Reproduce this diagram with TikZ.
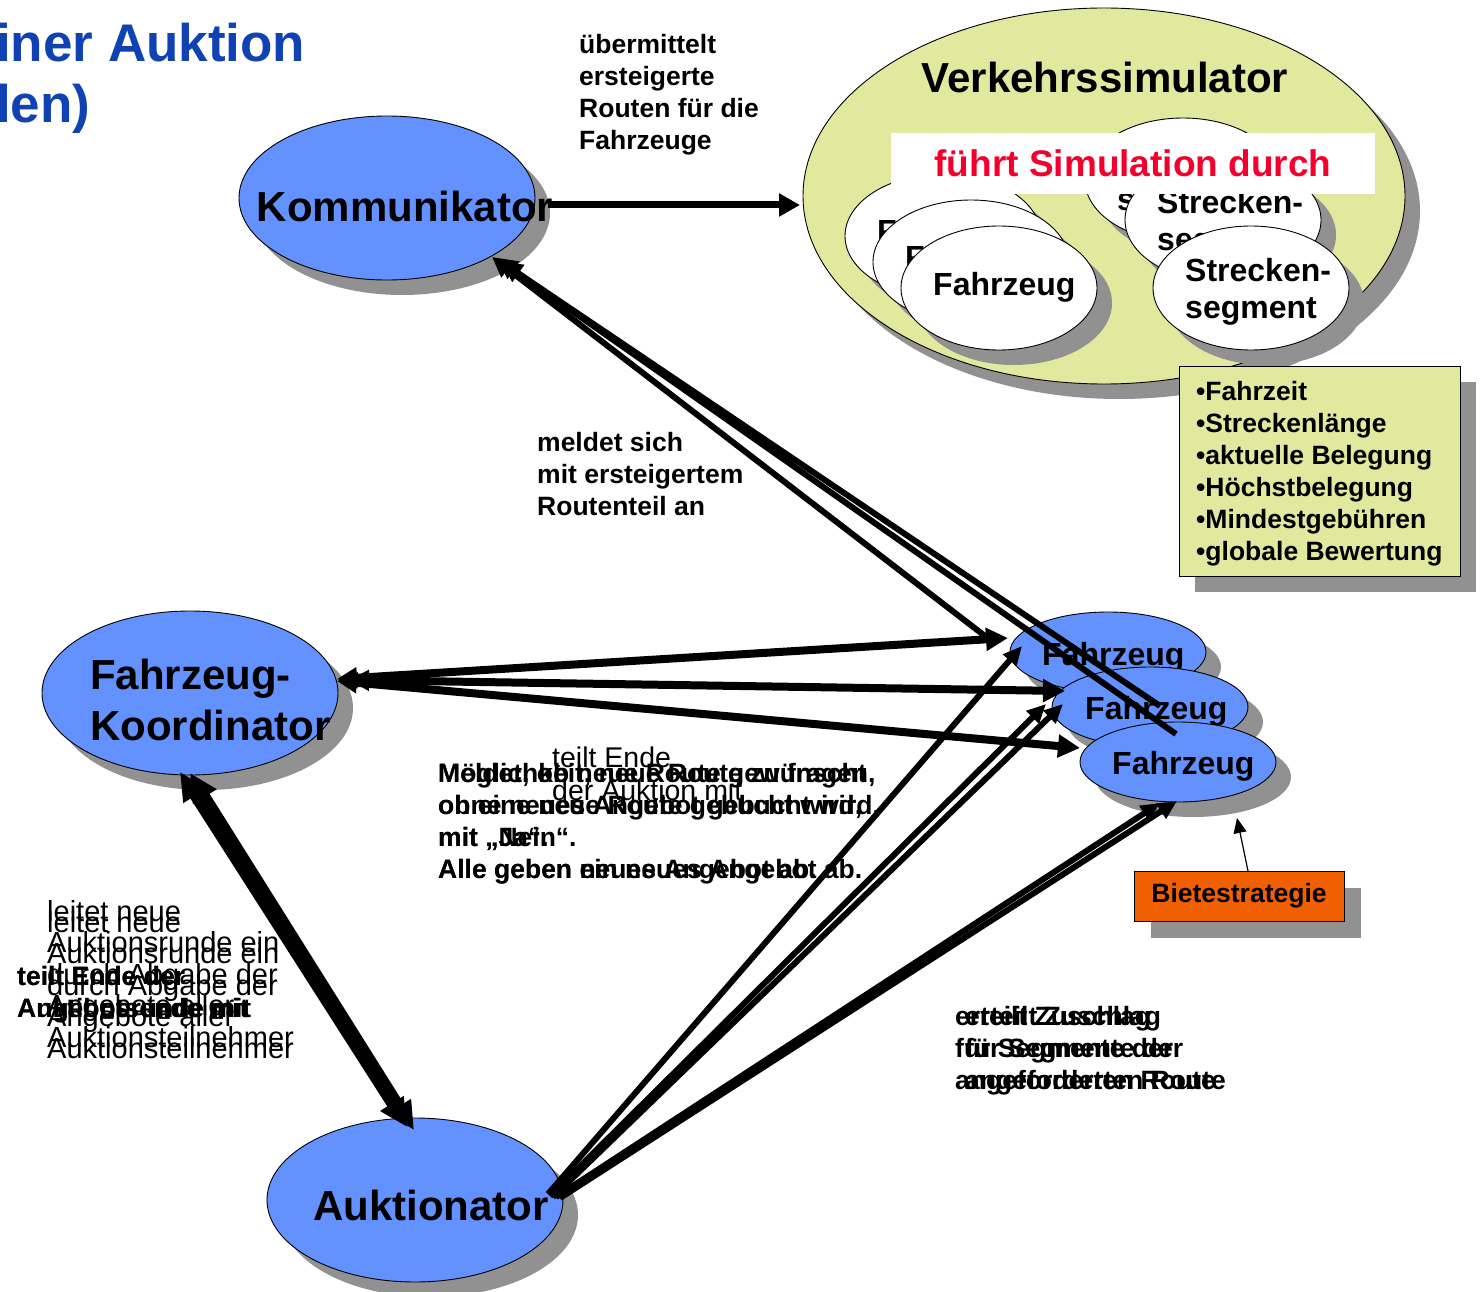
\documentclass[tikz,border=0pt]{standalone}
\usepackage{fontspec}
\setmainfont{Liberation Sans}
\usetikzlibrary{shapes.geometric,arrows.meta,shadows}
\definecolor{ellblue}{RGB}{99,146,255}
\definecolor{shgray}{RGB}{145,145,145}
\definecolor{simyel}{RGB}{224,233,158}
\definecolor{bieteor}{RGB}{240,95,0}
\definecolor{simred}{RGB}{245,0,45}
\definecolor{titleblue}{RGB}{16,66,180}
\begin{document}
\begin{tikzpicture}[x=1pt,y=-1pt,
  shad/.style={general shadow={fill=shgray, shadow xshift=#1, shadow yshift=-#1}},
  ell/.style={ellipse, draw=black, line width=0.9pt, inner sep=0pt, shad=15pt},
  bluee/.style={ell, fill=ellblue},
  whitee/.style={ell, fill=white},
  bigtxt/.style={font=\bfseries\fontsize{42}{51}\selectfont, inner sep=0pt},
  midtxt/.style={font=\bfseries\fontsize{32}{37}\selectfont, inner sep=0pt},
  lbl/.style={font=\bfseries\fontsize{26.5}{32}\selectfont, align=left, anchor=north west, inner sep=0pt},
  reglbl/.style={font=\fontsize{29}{31.5}\selectfont, align=left, anchor=north west, inner sep=0pt},
  arrK/.style={line width=7pt, -{Triangle[length=21pt,width=22pt]}},
  arrKin/.style={line width=6pt, -{Triangle[length=20pt,width=20pt]}},
  arrKo/.style={line width=8pt, {Triangle[length=20pt,width=20pt]}-{Triangle[length=22pt,width=22pt]}},
  arrAu/.style={line width=6pt, -{Triangle[length=19pt,width=17pt]}},
  arrKA/.style={line width=11pt, {Triangle[length=28pt,width=26pt]}-{Triangle[length=28pt,width=26pt]}},
  arrThin/.style={line width=1.2pt, -{Triangle[length=15pt,width=13pt]}}
]
\useasboundingbox (0,0) rectangle (1481,1292);
\fill[white] (0,0) rectangle (1481,1292);

% title
\node[anchor=north west, inner sep=0pt, align=left, text=titleblue,
      font=\bfseries\fontsize{53}{61}\selectfont] (title) at (-4,22.4) {iner Auktion\\len)};

% main ellipses
\node[bluee, minimum width=296pt, minimum height=164pt] (komm) at (387,198) {};
\node[bluee, minimum width=296pt, minimum height=164pt] (koord) at (190,693) {};
\node[bluee, minimum width=296pt, minimum height=164pt] (aukt) at (415,1200) {};

% simulator
\node[ell, fill=simyel, minimum width=602pt, minimum height=376pt] (sim) at (1104,196) {};
\node[bigtxt, anchor=base] (simtxt) at (1105,93) {Verkehrssimulator};

\node[whitee, minimum width=196pt, minimum height=124pt] (sfz1) at (943,236) {};
\node[midtxt, anchor=base west] (sfz1t) at (877,243) {Fahrzeug};
\node[whitee, minimum width=196pt, minimum height=124pt] (sfz2) at (971,262) {};
\node[midtxt, anchor=base west] (sfz2t) at (905,269) {Fahrzeug};
\node[whitee, minimum width=196pt, minimum height=124pt] (sfz3) at (999,288) {};
\node[midtxt, anchor=base west] (sfz3t) at (933,295) {Fahrzeug};

\node[whitee, minimum width=196pt, minimum height=124pt] (ss1) at (1183,180) {};
\node[midtxt, anchor=north west, align=left] (ss1t) at (1117,150) {Strecken-\\segment};
\node[whitee, minimum width=196pt, minimum height=124pt] (ss2) at (1223,220) {};
\node[midtxt, anchor=north west, align=left] (ss2t) at (1157,190) {Strecken-\\segment};
\node[whitee, minimum width=196pt, minimum height=124pt] (ss3) at (1251,288) {};
\node[midtxt, anchor=north west, align=left] (ss3t) at (1185,258) {Strecken-\\segment};

\node[fill=white, inner sep=0pt, minimum width=484pt, minimum height=61pt, anchor=north west] (simrect) at (891,133) {};
\node[anchor=base, inner sep=0pt, text=simred, font=\bfseries\fontsize{37}{40}\selectfont] (simrtxt) at (1133,177) {führt Simulation durch};

% info box
\node[draw=black, line width=0.9pt, fill=simyel, shad=16pt, inner sep=0pt,
      minimum width=281pt, minimum height=210pt, anchor=north west] (info) at (1179,366) {};
\node[lbl] (infotxt) at (1196,381) {•Fahrzeit\\•Streckenlänge\\•aktuelle Belegung\\•Höchstbelegung\\•Mindestgebühren\\•globale Bewertung};

% blue vehicle cluster
\node[bluee, minimum width=196pt, minimum height=80pt] (bf1) at (1108,652) {};
\node[midtxt, anchor=base west] (bf1t) at (1042,665) {Fahrzeug};
\node[bluee, minimum width=196pt, minimum height=80pt] (bf2) at (1150,707) {};
\node[midtxt, anchor=base west] (bf2t) at (1085,719) {Fahrzeug};
\node[bluee, minimum width=196pt, minimum height=80pt] (bf3) at (1178,762) {};
\node[midtxt, anchor=base west] (bf3t) at (1112,774) {Fahrzeug};

% Bietestrategie
\node[draw=black, line width=0.9pt, fill=bieteor, shad=17pt, inner sep=0pt,
      minimum width=210pt, minimum height=50pt, font=\bfseries\fontsize{26.5}{30}\selectfont] (biete) at (1239,896) {Bietestrategie};

% connector coordinates
\coordinate (kout) at (548,205);
\coordinate (simin) at (800,205);
\coordinate (kin1) at (492,257);
\coordinate (kin2) at (497,259);
\coordinate (kin3) at (502,262);
\coordinate (fk1) at (985,636);
\coordinate (fk2) at (1160,706);
\coordinate (fk3) at (1176,734);
\coordinate (ko1) at (337,679);
\coordinate (ko2) at (349,680);
\coordinate (ko3) at (337,681);
\coordinate (fz1) at (1008,638);
\coordinate (fz2) at (1065,691);
\coordinate (fz3) at (1080,748);
\coordinate (ka1) at (180,772);
\coordinate (ka2) at (407,1127);
\coordinate (kb1) at (190,773);
\coordinate (kb2) at (414,1130);
\coordinate (a1) at (548,1194);
\coordinate (a2) at (550,1196);
\coordinate (a3) at (553,1197);
\coordinate (a4) at (556,1197);
\coordinate (a5) at (560,1198);
\coordinate (af1) at (1022,646);
\coordinate (af2) at (1046,704);
\coordinate (af3) at (1063,704);
\coordinate (af4) at (1160,803);
\coordinate (af5) at (1177,801);
\coordinate (bs) at (1248,871);
\coordinate (bt) at (1237,818);

% connectors
\draw[arrK] (kout) -- (simin);
\draw[arrKin] (fk1) -- (kin1);
\draw[arrKin] (fk2) -- (kin2);
\draw[arrKin] (fk3) -- (kin3);
\draw[arrKo] (ko1) -- (fz1);
\draw[arrKo] (ko2) -- (fz2);
\draw[arrKo] (ko3) -- (fz3);
\draw[arrKA] (ka1) -- (ka2);
\draw[arrKA] (kb1) -- (kb2);
\draw[arrAu] (a1) -- (af1);
\draw[arrAu] (a2) -- (af2);
\draw[arrAu] (a3) -- (af3);
\draw[arrAu] (a4) -- (af4);
\draw[arrAu] (a5) -- (af5);
\draw[arrThin] (bs) -- (bt);

% ellipse texts
\node[bigtxt, anchor=base] (kommt) at (405,222) {Kommunikator};
\node[bigtxt, anchor=north west, align=left] (koordt) at (90,658.4) {Fahrzeug-\\Koordinator};
\node[bigtxt, anchor=base] (auktt) at (431,1220) {Auktionator};

% labels
\node[lbl] (lroute) at (579,34) {übermittelt\\ersteigerte\\Routen für die\\Fahrzeuge};
\node[lbl] (lmeld) at (537,432) {meldet sich\\mit ersteigertem\\Routenteil an};

\node[lbl] (lmidA) at (438,763) {Meldet, ob neue Route gewünscht\\ohne neues Angebot gebucht wird,\\mit „Ja“.\\Alle geben neues Angebot ab.};
\node[lbl] (lmidB) at (438,763) {Möglichkeit, neue Route zu fragen,\\ob eine neue Route gebucht wird,\\mit „Nein“.\\Alle geben ein neues Angebot ab.};
\node[font=\fontsize{28.5}{33}\selectfont, align=left, anchor=north west, inner sep=0pt] (lende) at (552,747) {teilt Ende\\der Auktion mit};

\node[reglbl] (lleitA) at (47,900) {leitet neue\\Auktionsrunde ein\\durch Abgabe der\\Angebote aller\\Auktionsteilnehmer};
\node[reglbl] (lleitB) at (47,911) {leitet neue\\Auktionsrunde ein\\durch Abgabe der\\Angebote aller\\Auktionsteilnehmer};
\node[lbl] (lteilA) at (17,966) {teilt Ende der\\Auktionsrunde mit};
\node[lbl] (lteilB) at (17,966) {teilt Ende der\\Angebotsende mit};

\node[lbl] (lzuA) at (955,1006) {erteilt Zuschlag\\für Segmente der\\angeforderten Route};
\node[lbl] (lzuB) at (965,1006) {erteilt Zuschlag\\für Segmente der\\angeforderten Route};
\end{tikzpicture}
\end{document}
